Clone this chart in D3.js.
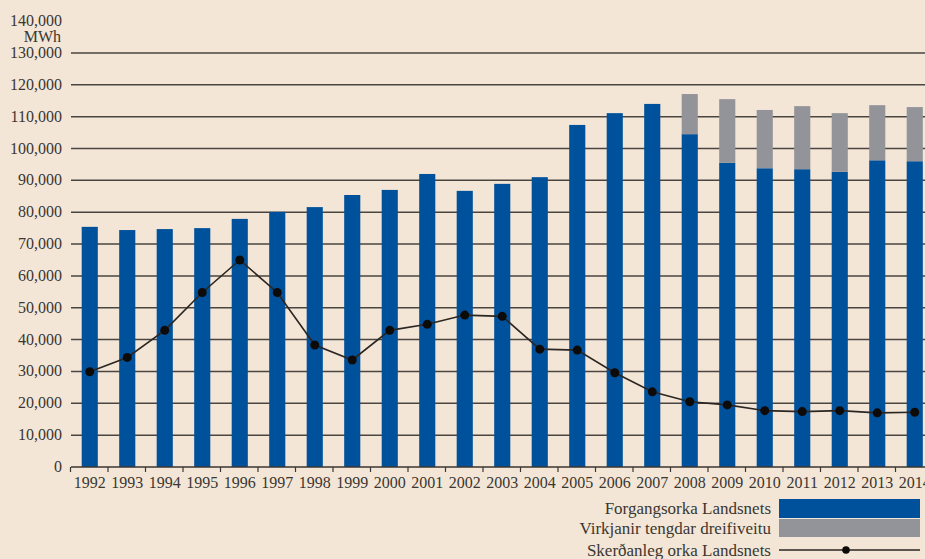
<!DOCTYPE html>
<html>
<head>
<meta charset="utf-8">
<script src="https://cdn.jsdelivr.net/npm/d3@7"></script>
<style>
  body { margin: 0; background: #f3e6d6; }
  svg { display: block; }
  text { font-family: "Liberation Serif", "DejaVu Serif", serif; fill: #3b3631; }
</style>
</head>
<body>
<svg id="chart"></svg>
<script>
const W = 925, H = 559;

const years = ["1992","1993","1994","1995","1996","1997","1998","1999","2000","2001","2002",
  "2003","2004","2005","2006","2007","2008","2009","2010","2011","2012","2013","2014"];
// Forgangsorka Landsnets (blue)
const priority = [75400, 74400, 74700, 75000, 77900, 80100, 81600, 85400, 87000, 92000, 86700,
  88900, 91000, 107400, 111100, 114000, 104500, 95500, 93800, 93500, 92700, 96300, 96000];
// Virkjanir tengdar dreifiveitu (grey, stacked)
const distributed = [0, 0, 0, 0, 0, 0, 0, 0, 0, 0, 0,
  0, 0, 0, 0, 0, 12600, 20000, 18300, 19800, 18400, 17300, 17000];
// Skerðanleg orka Landsnets (line)
const curtailable = [29900, 34400, 42900, 54800, 65000, 54800, 38300, 33600, 42900, 44800, 47700,
  47300, 37000, 36700, 29600, 23600, 20500, 19500, 17700, 17400, 17700, 17000, 17200];
const yTicks = [0, 10000, 20000, 30000, 40000, 50000, 60000, 70000, 80000, 90000, 100000,
  110000, 120000, 130000, 140000];
const legendLabels = ["Forgangsorka Landsnets", "Virkjanir tengdar dreifiveitu", "Skerðanleg orka Landsnets"];

const blue = "#00519c", grey = "#939499";

const svg = d3.select("#chart").attr("width", W).attr("height", H);

const x = d3.scaleBand().domain(years).range([71, 71 + 23 * 37.5]).paddingInner(0.57).paddingOuter(0.285);
const y = d3.scaleLinear().domain([0, 140000]).range([467, 467 - 14 * 31.85]);

// gridlines
svg.append("g")
  .selectAll("line")
  .data(yTicks.filter(d => d > 0 && d < 140000))
  .join("line")
  .attr("x1", 71).attr("x2", W)
  .attr("y1", d => y(d)).attr("y2", d => y(d))
  .attr("stroke", "#4a4540").attr("stroke-width", 1.5);

// y labels
svg.append("g")
  .selectAll("text")
  .data(yTicks)
  .join("text")
  .attr("x", 62)
  .attr("y", d => y(d) + 5)
  .attr("text-anchor", "end")
  .style("font-size", "16px")
  .text(d => d3.format(",")(d));

svg.append("text")
  .attr("x", 61).attr("y", 42)
  .attr("text-anchor", "end")
  .style("font-size", "16px")
  .text("MWh");

// bars
svg.append("g")
  .selectAll("rect")
  .data(years)
  .join("rect")
  .attr("x", d => x(d))
  .attr("width", x.bandwidth())
  .attr("y", (d, i) => y(priority[i]))
  .attr("height", (d, i) => y(0) - y(priority[i]))
  .attr("fill", blue);

svg.append("g")
  .selectAll("rect")
  .data(years.filter((d, i) => distributed[i] > 0))
  .join("rect")
  .attr("x", d => x(d))
  .attr("width", x.bandwidth())
  .attr("y", d => { const i = years.indexOf(d); return y(priority[i] + distributed[i]); })
  .attr("height", d => { const i = years.indexOf(d); return y(priority[i]) - y(priority[i] + distributed[i]); })
  .attr("fill", grey);

// x axis
const xAxis = d3.axisBottom(x).tickSize(0).tickPadding(10);
const gx = svg.append("g").attr("transform", "translate(0,467)").call(xAxis);
gx.select(".domain").remove();
gx.selectAll("text").style("font-size", "16px").style("font-family", "Liberation Serif, serif").attr("fill", "#3b3631");
gx.append("line").attr("x1", 71).attr("x2", W).attr("stroke", "#3b3631").attr("stroke-width", 1.5);
gx.selectAll(".sep")
  .data(years)
  .join("line")
  .attr("class", "sep")
  .attr("x1", d => x(d) - x.step() * x.paddingInner() / 2 - 0.5)
  .attr("x2", d => x(d) - x.step() * x.paddingInner() / 2 - 0.5)
  .attr("y1", 0).attr("y2", 5)
  .attr("stroke", "#3b3631").attr("stroke-width", 1.2);

// line
const cx = d => x(d) + x.bandwidth() / 2;
const line = d3.line().x((d, i) => cx(years[i])).y(d => y(d));
svg.append("path")
  .datum(curtailable)
  .attr("d", line)
  .attr("fill", "none")
  .attr("stroke", "#2b2622")
  .attr("stroke-width", 1.6);
svg.append("g")
  .selectAll("circle")
  .data(curtailable)
  .join("circle")
  .attr("cx", (d, i) => cx(years[i]))
  .attr("cy", d => y(d))
  .attr("r", 4.5)
  .attr("fill", "#0d0b0a");

// legend
const lg = svg.append("g");
lg.append("rect").attr("x", 779).attr("y", 499).attr("width", 141).attr("height", 19).attr("fill", blue);
lg.append("rect").attr("x", 779).attr("y", 519).attr("width", 141).attr("height", 18).attr("fill", grey);
lg.append("line").attr("x1", 779).attr("x2", 920).attr("y1", 550).attr("y2", 550).attr("stroke", "#2b2622").attr("stroke-width", 1.5);
lg.append("circle").attr("cx", 846).attr("cy", 550).attr("r", 3.8).attr("fill", "#0d0b0a");
lg.selectAll("text")
  .data(legendLabels)
  .join("text")
  .attr("x", 771)
  .attr("y", (d, i) => [514, 534, 556][i])
  .attr("text-anchor", "end")
  .style("font-size", "17px")
  .text(d => d);
</script>
</body>
</html>
